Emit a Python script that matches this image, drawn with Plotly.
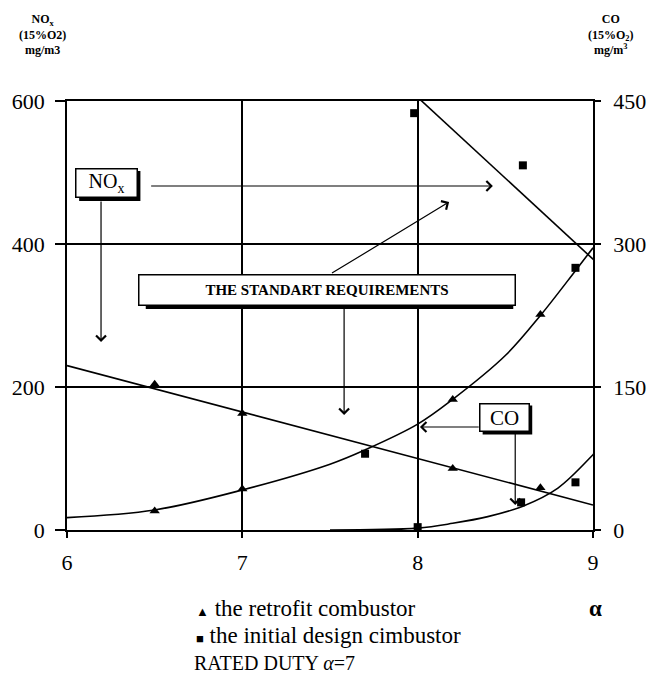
import plotly.graph_objects as go

# ---------------- data ----------------
# CO, retrofit combustor (right axis, mg/m3)
alpha_co_curve = [6.0, 6.5, 7.0, 7.5, 7.7, 8.0, 8.2, 8.5, 8.7, 8.9, 9.0]
co_retrofit_curve = [13, 21, 42, 69, 84, 111, 137, 183, 225, 272, 296]
alpha_co_retrofit_pts = [6.5, 7.0, 8.2, 8.7]
co_retrofit_pts = [20, 43, 137, 226]
# CO, initial design combustor (right axis)
alpha_co_initial_curve = [7.5, 8.0, 8.2, 8.4, 8.6, 8.8, 9.0, 9.02]
co_initial_curve = [0, 2, 7, 14, 25, 44, 79, 83]
alpha_co_initial_pts = [7.7, 8.9, 8.0, 8.59, 8.9]
co_initial_pts = [80, 275, 3, 29, 50]
# NOx, retrofit combustor (left axis, mg/m3)
alpha_nox_retrofit_line = [6.0, 9.0]
nox_retrofit_line = [230, 35]
alpha_nox_retrofit_pts = [6.5, 7.0, 8.2, 8.7]
nox_retrofit_pts = [204, 163, 86, 59]
# NOx, initial design combustor (left axis)
alpha_nox_initial_line = [7.97, 9.03]
nox_initial_line = [612, 372]
alpha_nox_initial_pts = [7.98, 8.6]
nox_initial_pts = [583, 510]

x_ticks = [6, 7, 8, 9]
y_left_ticks = [0, 200, 400, 600]
y_right_ticks = [0, 150, 300, 450]

# ---------------- layout helpers ----------------
W, H = 658, 685
L, R, T, B = 62, 55, 101, 155
PW, PH = W - L - R, H - T - B
FONT = "Liberation Serif"


def dx(px):
    return 6 + (px - L) / PW * 3


def dy(py):
    return (H - B - py) / PH * 600


def pxp(px):
    return (px - L) / PW


def pyp(py):
    return (H - B - py) / PH


fig = go.Figure()
line_style = dict(color="black", width=1.6)

fig.add_trace(go.Scatter(x=alpha_co_curve, y=co_retrofit_curve, mode="lines",
                         line=dict(shape="spline", smoothing=1.0, **line_style),
                         yaxis="y2", hoverinfo="skip"))
fig.add_trace(go.Scatter(x=alpha_co_initial_curve, y=co_initial_curve, mode="lines",
                         line=dict(shape="spline", smoothing=1.0, **line_style),
                         yaxis="y2", hoverinfo="skip"))
fig.add_trace(go.Scatter(x=alpha_nox_retrofit_line, y=nox_retrofit_line, mode="lines",
                         line=line_style, hoverinfo="skip"))
fig.add_trace(go.Scatter(x=alpha_nox_initial_line, y=nox_initial_line, mode="lines",
                         line=line_style, hoverinfo="skip"))

tri = dict(symbol="triangle-up", size=9, color="black")
sq = dict(symbol="square", size=8, color="black")
fig.add_trace(go.Scatter(x=alpha_co_retrofit_pts, y=co_retrofit_pts, mode="markers",
                         marker=tri, yaxis="y2"))
fig.add_trace(go.Scatter(x=alpha_co_initial_pts, y=co_initial_pts, mode="markers",
                         marker=sq, yaxis="y2"))
fig.add_trace(go.Scatter(x=alpha_nox_retrofit_pts, y=nox_retrofit_pts, mode="markers",
                         marker=tri))
fig.add_trace(go.Scatter(x=alpha_nox_initial_pts, y=nox_initial_pts, mode="markers",
                         marker=sq))

annotations = []
shapes = []


def box(cx_px, cy_px, w_px, h_px, text, size, bold=False):
    shapes.append(dict(type="rect", xref="x", yref="y",
                       x0=dx(cx_px - w_px / 2 + 3), x1=dx(cx_px + w_px / 2 + 3),
                       y0=dy(cy_px + h_px / 2 + 3), y1=dy(cy_px - h_px / 2 + 3),
                       fillcolor="black", line=dict(width=0), layer="above"))
    annotations.append(dict(x=dx(cx_px), y=dy(cy_px), xref="x", yref="y",
                            xanchor="center", yanchor="middle",
                            text=("<b>%s</b>" % text) if bold else text,
                            showarrow=False, width=w_px - 5, height=h_px - 5,
                            bordercolor="black", borderwidth=1.5, borderpad=1,
                            bgcolor="white", font=dict(family=FONT, size=size, color="black")))


def arrow(x0px, y0px, x1px, y1px):
    annotations.append(dict(x=dx(x1px), y=dy(y1px), ax=dx(x0px), ay=dy(y0px),
                            xref="x", yref="y", axref="x", ayref="y", text="",
                            showarrow=True, arrowhead=4, arrowsize=1.6, arrowwidth=1.2,
                            arrowcolor="black"))


def label(px, py, text, size, xanchor="center"):
    annotations.append(dict(x=pxp(px), y=pyp(py), xref="paper", yref="paper",
                            xanchor=xanchor, yanchor="middle", showarrow=False,
                            text=text, font=dict(family=FONT, size=size, color="black")))


arrow(147, 186, 500, 186)      # NOx -> right
arrow(97, 200, 97, 342)        # NOx -> down
arrow(333, 274, 455, 202)      # standard -> up-right
arrow(347, 306, 347, 415)      # standard -> down
arrow(487, 427, 425, 427)      # CO -> left
arrow(523, 432, 523, 505)      # CO -> down

box(103, 183, 63, 30, "NO<sub>x</sub>", 20)
box(329, 290, 378, 32, "THE STANDART REQUIREMENTS", 15, bold=True)
box(512, 417, 51, 29, "CO", 21)

# axis unit titles
label(37, 34, "<b>NO<sub>x</sub><br>(15%O2)<br>mg/m3</b>", 12)
label(621, 34, "<b>CO<br>(15%O<sub>2</sub>)<br>mg/m<sup>3</sup></b>", 12)

# legend-like texts
label(193, 608, "<span style='font-size:13px'>▲</span> the retrofit combustor", 23, "left")
label(193, 635, "<span style='font-size:13px'>■</span> the initial design cimbustor", 23, "left")
label(191, 663, "RATED DUTY <i>α</i>=7", 20, "left")
label(606, 608, "<b>α</b>", 23)

axis_common = dict(showline=True, linecolor="black", linewidth=1.5, ticks="outside",
                   tickcolor="black", tickwidth=1.5, zeroline=False,
                   tickfont=dict(family=FONT, size=22, color="black"))

fig.update_layout(
    width=W, height=H, autosize=False,
    margin=dict(l=L, r=R, t=T, b=B),
    paper_bgcolor="white", plot_bgcolor="white",
    showlegend=False,
    xaxis=dict(range=[6, 9], tickvals=x_ticks, ticktext=[str(v) for v in x_ticks],
               showgrid=True, gridcolor="black", gridwidth=1.5, mirror=True, ticklen=6,
               ticklabelstandoff=6, **axis_common),
    yaxis=dict(range=[0, 600], tickvals=y_left_ticks, showgrid=True, gridcolor="black",
               gridwidth=1.5, mirror=True, ticklen=10, ticklabelstandoff=6, **axis_common),
    yaxis2=dict(range=[0, 450], tickvals=y_right_ticks, overlaying="y", side="right",
                showgrid=False, ticklen=6, ticklabelstandoff=8, **axis_common),
    annotations=annotations,
    shapes=shapes,
)

fig.write_html("out.html", config={"displayModeBar": False},
               post_script="document.body.style.margin='0';document.body.style.padding='0';")
